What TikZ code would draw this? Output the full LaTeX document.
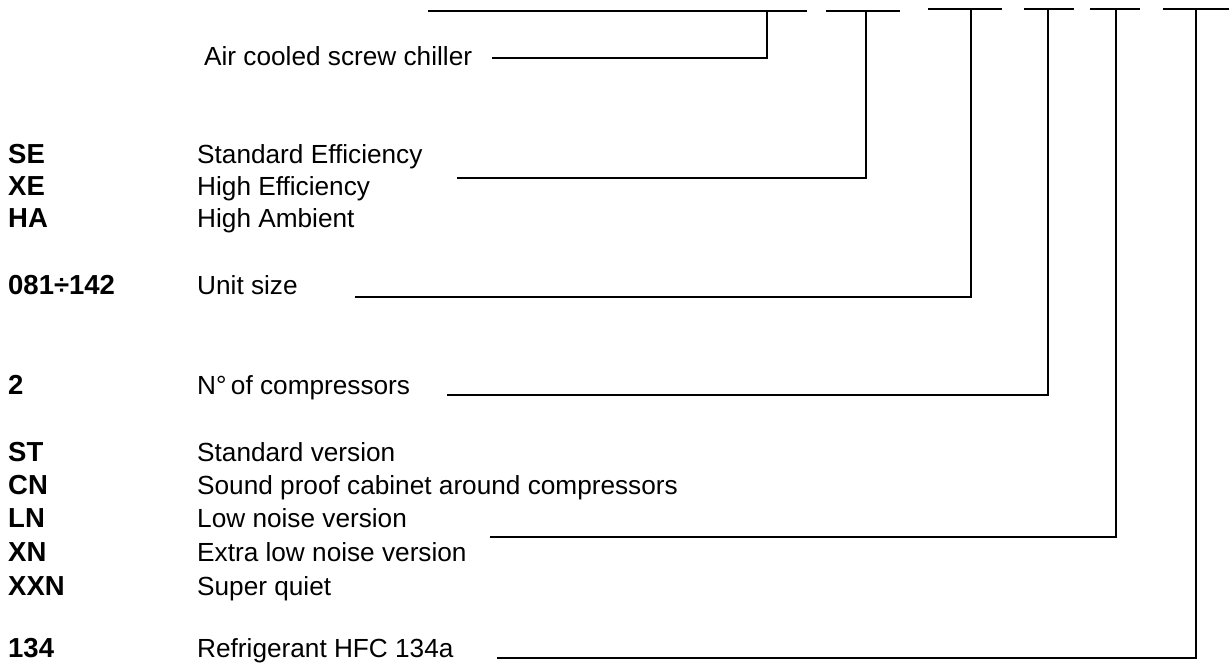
\documentclass[tikz,border=0pt]{standalone}
\usepackage{fontspec}
\setmainfont{Liberation Sans}
\begin{document}
\begin{tikzpicture}[x=1pt,y=-1pt]
\tikzset{
  lbl/.style={anchor=base west, inner sep=0pt, font=\fontsize{26.2}{30}\selectfont},
  code/.style={anchor=base west, inner sep=0pt, font=\fontsize{27.5}{30}\selectfont\bfseries},
  wire/.style={line width=1.8pt}
}
\useasboundingbox (0,0) rectangle (1231,665);
% top segments
\coordinate (a1) at (428,11);  \coordinate (b1) at (807,11);
\coordinate (a2) at (826,11);  \coordinate (b2) at (900,11);
\coordinate (a3) at (928,9);   \coordinate (b3) at (1002,9);
\coordinate (a4) at (1024,9);  \coordinate (b4) at (1074,9);
\coordinate (a5) at (1090,9);  \coordinate (b5) at (1140,9);
\coordinate (a6) at (1163,9);  \coordinate (b6) at (1229,9);
\foreach \i in {1,...,6} {\draw[wire] (a\i) -- (b\i);}
\coordinate (v1) at (767,11);
\coordinate (v2) at (866,11);
\coordinate (v3) at (971,9);
\coordinate (v4) at (1048,9);
\coordinate (v5) at (1116,9);
\coordinate (v6) at (1196,9);

% texts
\node[lbl] (air) at (204,65) {Air cooled screw chiller};

\node[code] (cSE) at (8,163) {SE};
\node[code] (cXE) at (8,195) {XE};
\node[code] (cHA) at (8,227) {HA};
\node[lbl] (dSE) at (197,163) {Standard Efficiency};
\node[lbl] (dXE) at (197,195) {High Efficiency};
\node[lbl] (dHA) at (197,227) {High Ambient};

\node[code] (cUS) at (8,294) {081÷142};
\node[lbl] (dUS) at (197,294) {Unit size};

\node[code] (cNC) at (8,394) {2};
\node[lbl] (dNC) at (197,394) {N°\,of compressors};

\node[code] (cST) at (8,461) {ST};
\node[code] (cCN) at (8,494) {CN};
\node[code] (cLN) at (8,527) {LN};
\node[code] (cXN) at (8,561) {XN};
\node[code] (cXXN) at (8,595) {XXN};
\node[lbl] (dST) at (197,461) {Standard version};
\node[lbl] (dCN) at (197,494) {Sound proof cabinet around compressors};
\node[lbl] (dLN) at (197,527) {Low noise version};
\node[lbl] (dXN) at (197,561) {Extra low noise version};
\node[lbl] (dXXN) at (197,595) {Super quiet};

\node[code] (cRF) at (8,657) {134};
\node[lbl] (dRF) at (197,657) {Refrigerant HFC 134a};

% connectors
\coordinate (s1) at (492,58);
\coordinate (s2) at (457,178);
\coordinate (s3) at (355,297);
\coordinate (s4) at (447,395);
\coordinate (s5) at (490,537);
\coordinate (s6) at (497,658);
\foreach \i in {1,...,6} {\draw[wire] (s\i) -| (v\i);}
\end{tikzpicture}
\end{document}
